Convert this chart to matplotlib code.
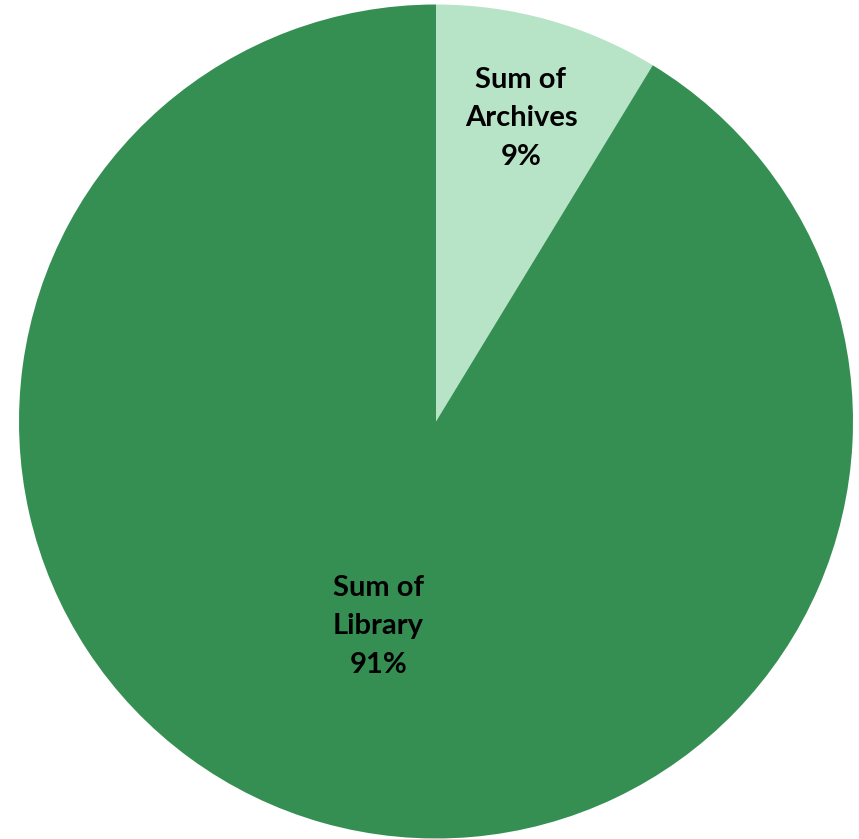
import matplotlib
matplotlib.use("Agg")
import matplotlib.pyplot as plt
import numpy as np

# share of each source
categories = ["Sum of Archives", "Sum of Library"]
values = [8.7, 91.3]
colors = ["#B7E4C7", "#358F53"]
label_dist = [0.755, 0.51]

W, H = 859, 839
fig = plt.figure(figsize=(W / 100, H / 100), dpi=100)
cx, cy, r = 436, 421.5, 417
ax = fig.add_axes([(cx - r) / W, (H - cy - r) / H, 2 * r / W, 2 * r / H])

wedges, _ = ax.pie(values, colors=colors, startangle=90, counterclock=False,
                   radius=1, wedgeprops=dict(linewidth=0))

total = sum(values)
for w, name, v, d in zip(wedges, categories, values, label_dist):
    mid = np.deg2rad((w.theta1 + w.theta2) / 2)
    head, tail = name.rsplit(" ", 1)
    txt = f"{head}\n{tail}\n{round(v / total * 100):.0f}%"
    ax.text(d * np.cos(mid), d * np.sin(mid), txt, ha="center", va="center",
            fontsize=21, fontweight="bold", family="Lato", color="black",
            linespacing=1.6)

ax.set_xlim(-1, 1)
ax.set_ylim(-1, 1)
ax.set_aspect("equal")
ax.axis("off")

fig.savefig("out.png", dpi=100)
